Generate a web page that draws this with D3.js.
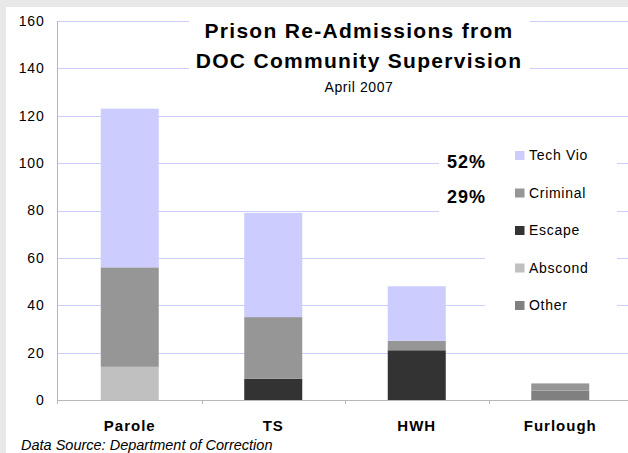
<!DOCTYPE html>
<html><head><meta charset="utf-8">
<script src="https://cdn.jsdelivr.net/npm/d3@7"></script>
<style>
html,body{margin:0;padding:0;background:#e8e8e8;}
svg{display:block;font-family:"Liberation Sans",sans-serif;}
</style></head>
<body>
<svg id="c" width="628" height="453"></svg>
<script>
const categories = ["Parole", "TS", "HWH", "Furlough"];
const seriesNames = ["Other", "Abscond", "Escape", "Criminal", "Tech Vio"];
const other    = [0, 0, 0, 4];
const abscond  = [14, 0, 0, 0];
const escape   = [0, 9, 21, 0];
const criminal = [42, 26, 4, 3];
const techVio  = [67, 44, 23, 0];
const seriesColors = ["#808080", "#c0c0c0", "#333333", "#969696", "#ccccff"];
const yTicks = [0, 20, 40, 60, 80, 100, 120, 140, 160];
const percentLabels = ["52%", "29%"];
const titleLines = ["Prison Re-Admissions from", "DOC Community Supervision"];
const subtitle = "April 2007";
const sourceNote = "Data Source: Department of Correction";

const FONT = "'Liberation Sans', Arial, sans-serif";
const svg = d3.select("#c");
svg.append("rect").attr("x", 6).attr("y", 7).attr("width", 622).attr("height", 446).attr("fill", "#fff");

const table = categories.map((c, i) => ({
  cat: c, "Other": other[i], "Abscond": abscond[i], "Escape": escape[i],
  "Criminal": criminal[i], "Tech Vio": techVio[i]
}));

const x = d3.scaleBand().domain(categories).range([58, 632]).paddingInner(0).paddingOuter(0);
const y = d3.scaleLinear().domain([0, 160]).range([400, 21]);
const color = d3.scaleOrdinal().domain(seriesNames).range(seriesColors);

// gridlines
svg.append("g").selectAll("line").data(yTicks.filter(d => d > 0)).join("line")
  .attr("x1", 58).attr("x2", 628)
  .attr("y1", d => Math.round(y(d)) + 0.5).attr("y2", d => Math.round(y(d)) + 0.5)
  .attr("stroke", "#ccccff").attr("stroke-width", 1);

// bars
const stack = d3.stack().keys(seriesNames)(table);
const barW = 58;
svg.append("g").selectAll("g").data(stack).join("g")
  .attr("fill", d => color(d.key))
  .selectAll("rect").data(d => d).join("rect")
  .attr("x", d => x(d.data.cat) + x.bandwidth() / 2 - barW / 2)
  .attr("width", barW)
  .attr("y", d => y(d[1]))
  .attr("height", d => Math.max(0, y(d[0]) - y(d[1])));

// white boxes for title / labels / legend
svg.append("rect").attr("x", 189).attr("y", 12).attr("width", 341).attr("height", 90).attr("fill", "#fff");
svg.append("rect").attr("x", 439).attr("y", 145).attr("width", 46).attr("height", 72).attr("fill", "#fff");
svg.append("rect").attr("x", 485).attr("y", 140).attr("width", 132).attr("height", 185).attr("fill", "#fff");

// y axis
const yAxis = d3.axisLeft(y).tickValues(yTicks).tickSize(0).tickPadding(13);
const gy = svg.append("g").attr("transform", "translate(57.5,0)").call(yAxis);
gy.select(".domain").remove();
gy.selectAll("text").attr("font-size", 14).attr("letter-spacing", 0.8).attr("fill", "#000")
  .attr("font-family", FONT);
svg.append("line").attr("x1", 57.5).attr("x2", 57.5).attr("y1", 21).attr("y2", 404)
  .attr("stroke", "#b8b8b8");

// x axis
const xAxis = d3.axisBottom(x).tickSize(0).tickPadding(0);
const gx = svg.append("g").attr("transform", "translate(0,400.5)").call(xAxis);
gx.select(".domain").remove();
gx.selectAll("text").remove();
svg.append("line").attr("x1", 57.5).attr("x2", 628).attr("y1", 400.5).attr("y2", 400.5).attr("stroke", "#b8b8b8");
svg.append("g").selectAll("line").data(categories.slice(1)).join("line")
  .attr("x1", d => Math.round(x(d)) + 0.5).attr("x2", d => Math.round(x(d)) + 0.5)
  .attr("y1", 400).attr("y2", 404).attr("stroke", "#b8b8b8");
svg.append("g").selectAll("text").data(categories).join("text")
  .attr("x", d => x(d) + x.bandwidth() / 2).attr("y", 431)
  .attr("text-anchor", "middle").attr("font-size", 15).attr("font-weight", "bold")
  .attr("letter-spacing", 1).text(d => d);

// title
svg.append("g").selectAll("text").data(titleLines).join("text")
  .attr("x", 359).attr("y", (d, i) => 38 + i * 30)
  .attr("text-anchor", "middle").attr("font-size", 21).attr("font-weight", "bold")
  .attr("letter-spacing", 1.3).text(d => d);
svg.append("text").attr("x", 359).attr("y", 92).attr("text-anchor", "middle")
  .attr("font-size", 14).attr("letter-spacing", 0.6).text(subtitle);

// percent labels
svg.append("g").selectAll("text").data(percentLabels).join("text")
  .attr("x", 447).attr("y", (d, i) => 168 + i * 35)
  .attr("font-size", 18).attr("font-weight", "bold").attr("letter-spacing", 1).text(d => d);

// legend
const legendKeys = seriesNames.slice().reverse();
const lg = svg.append("g").selectAll("g").data(legendKeys).join("g")
  .attr("transform", (d, i) => `translate(515,${160 + i * 37.5})`);
lg.append("rect").attr("x", 0).attr("y", -9).attr("width", 9.5).attr("height", 9)
  .attr("fill", d => color(d));
lg.append("text").attr("x", 14).attr("y", 0).attr("font-size", 14).attr("letter-spacing", 0.7)
  .text(d => d);

// source
svg.append("text").attr("x", 21).attr("y", 450).attr("font-size", 14.5)
  .attr("font-style", "italic").text(sourceNote);
</script>
</body></html>
